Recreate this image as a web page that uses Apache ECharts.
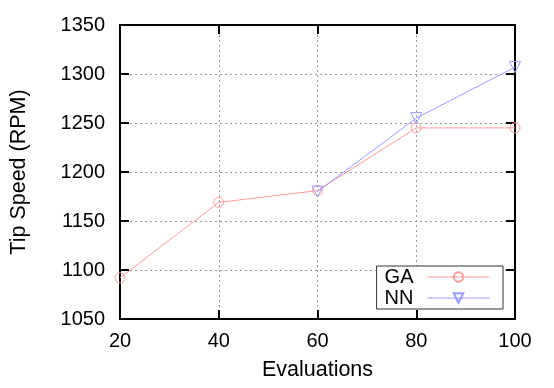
<!DOCTYPE html>
<html>
<head>
<meta charset="utf-8">
<script src="https://cdn.jsdelivr.net/npm/echarts@6/dist/echarts.min.js"></script>
<style>
  html, body { margin: 0; padding: 0; background: #fff; }
  #chart { width: 554px; height: 388px; }
</style>
</head>
<body>
<div id="chart"></div>
<script>
const evaluations = [20, 40, 60, 80, 100]
const gaSpeed = [1092, 1169, 1181, 1245, 1245]
const nnSpeed = [null, null, 1180, 1255, 1307]
const yTicks = [1050, 1350, 50]

const font = 'Liberation Sans'
const gridLine = { show: true, lineStyle: { color: '#999', type: [2, 3], width: 1 } }
const frame = { show: true, onZero: false, lineStyle: { color: '#000', width: 2 } }
const tick = { show: true, inside: true, length: 9, lineStyle: { color: '#000', width: 2 } }

const chart = echarts.init(document.getElementById('chart'))
chart.setOption({
  animation: false,
  textStyle: { fontFamily: font },
  grid: { left: 118, top: 25, width: 397, height: 294 },
  legend: {
    right: 51,
    bottom: 79,
    orient: 'vertical',
    align: 'right',
    itemWidth: 62,
    itemHeight: 12,
    itemGap: 1,
    padding: [1, 13, 1, 8],
    borderColor: '#333',
    borderWidth: 1,
    borderRadius: 0,
    backgroundColor: '#fff',
    lineStyle: { width: 1 },
    textStyle: { fontSize: 20, color: '#000', fontFamily: font, lineHeight: 20, padding: [0, 9, 0, 0] },
    data: ['GA', 'NN']
  },
  xAxis: [
    {
      type: 'value',
      min: 20,
      max: 100,
      interval: 20,
      name: 'Evaluations',
      nameLocation: 'middle',
      nameGap: 40,
      nameTextStyle: { fontSize: 21.5, color: '#000' },
      axisLine: frame,
      axisTick: tick,
      axisLabel: { fontSize: 20, color: '#000', margin: 12 },
      splitLine: gridLine
    },
    {
      type: 'value',
      position: 'top',
      min: 20,
      max: 100,
      interval: 20,
      axisLine: frame,
      axisTick: tick,
      axisLabel: { show: false },
      splitLine: { show: false }
    }
  ],
  yAxis: [
    {
      type: 'value',
      min: yTicks[0],
      max: yTicks[1],
      interval: yTicks[2],
      name: 'Tip Speed (RPM)',
      nameLocation: 'middle',
      nameGap: 90,
      nameTextStyle: { fontSize: 21.5, color: '#000' },
      axisLine: frame,
      axisTick: tick,
      axisLabel: { fontSize: 20, color: '#000', margin: 15, formatter: v => String(v) },
      splitLine: gridLine
    },
    {
      type: 'value',
      position: 'right',
      min: yTicks[0],
      max: yTicks[1],
      interval: yTicks[2],
      axisLine: frame,
      axisTick: tick,
      axisLabel: { show: false },
      splitLine: { show: false }
    }
  ],
  series: [
    {
      name: 'GA',
      type: 'line',
      data: evaluations.map((x, i) => [x, gaSpeed[i]]),
      symbol: 'circle',
      symbolSize: 10,
      color: '#ff9a9a',
      lineStyle: { width: 1, color: '#ff9a9a' },
      itemStyle: { color: 'rgba(255,255,255,0)', borderColor: '#ff9a9a', borderWidth: 1 },
      z: 3
    },
    {
      name: 'NN',
      type: 'line',
      data: evaluations.map((x, i) => [x, nnSpeed[i]]),
      symbol: 'triangle',
      symbolRotate: 180,
      symbolSize: 11,
      color: '#9a9aff',
      lineStyle: { width: 1, color: '#9a9aff' },
      itemStyle: { color: 'rgba(255,255,255,0)', borderColor: '#9a9aff', borderWidth: 1 },
      z: 4
    }
  ]
})
</script>
</body>
</html>
